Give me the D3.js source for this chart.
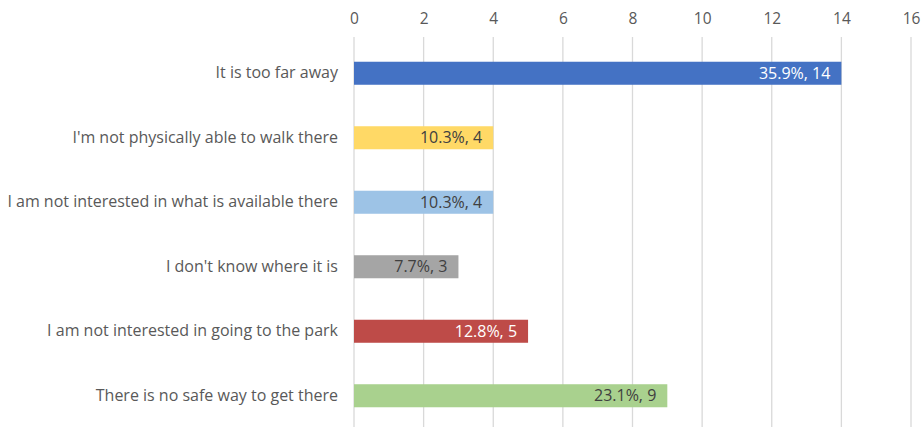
<!DOCTYPE html>
<html>
<head>
<meta charset="utf-8">
<script src="https://cdn.jsdelivr.net/npm/d3@7"></script>
<style>
  html, body { margin: 0; padding: 0; background: #fff; }
  svg text { font-family: "Open Sans", Lato, sans-serif; }
</style>
</head>
<body>
<svg id="chart" width="921" height="427"></svg>
<script>
// Survey responses: reasons for not visiting the park
const categories = [
  "It is too far away",
  "I'm not physically able to walk there",
  "I am not interested in what is available there",
  "I don't know where it is",
  "I am not interested in going to the park",
  "There is no safe way to get there"
];
const counts = [14, 4, 4, 3, 5, 9];
const percents = ["35.9%", "10.3%", "10.3%", "7.7%", "12.8%", "23.1%"];
const barColors = ["#4472C4", "#FFD966", "#9DC3E6", "#A5A5A5", "#BE4B48", "#A9D18E"];
const labelColors = ["#FFFFFF", "#404040", "#404040", "#404040", "#FFFFFF", "#404040"];
const xTicks = [0, 2, 4, 6, 8, 10, 12, 14, 16];

const svg = d3.select("#chart");

const x = d3.scaleLinear().domain([0, 16]).range([354, 911]);
const y = d3.scaleBand().domain(categories).range([41, 428]).paddingInner(0.643).paddingOuter(0.3215);

// vertical gridlines
svg.append("g")
  .selectAll("line")
  .data(xTicks)
  .join("line")
  .attr("x1", d => x(d)).attr("x2", d => x(d))
  .attr("y1", 37).attr("y2", 427)
  .attr("stroke", "#D9D9D9")
  .attr("stroke-width", 1.3);

// top axis labels
const xAxis = d3.axisTop(x).tickValues(xTicks).tickSize(0).tickPadding(0);
const gx = svg.append("g").attr("transform", "translate(0,24)").call(xAxis);
gx.select(".domain").remove();
gx.selectAll("text").attr("fill", "#595959").style("font-size", "15.5px");

// category labels
const yAxis = d3.axisLeft(y).tickSize(0).tickPadding(0);
const gy = svg.append("g").attr("transform", "translate(338,0)").call(yAxis);
gy.select(".domain").remove();
gy.selectAll("text").attr("fill", "#595959").style("font-size", "16px");

// bars
svg.append("g")
  .selectAll("rect")
  .data(categories)
  .join("rect")
  .attr("x", x(0))
  .attr("y", d => y(d))
  .attr("width", (d, i) => x(counts[i]) - x(0))
  .attr("height", y.bandwidth())
  .attr("fill", (d, i) => barColors[i]);

// value labels inside bar ends
svg.append("g")
  .selectAll("text")
  .data(categories)
  .join("text")
  .attr("x", (d, i) => x(counts[i]) - 11)
  .attr("y", d => y(d) + y.bandwidth() / 2)
  .attr("dy", "0.35em")
  .attr("text-anchor", "end")
  .attr("fill", (d, i) => labelColors[i])
  .style("font-size", "16px")
  .text((d, i) => `${percents[i]}, ${counts[i]}`);
</script>
</body>
</html>
